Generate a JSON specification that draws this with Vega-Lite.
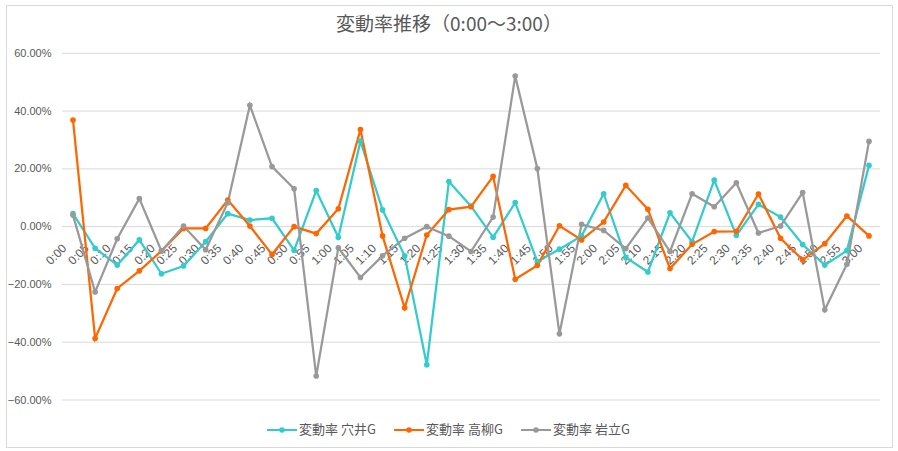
{
  "$schema": "https://vega.github.io/schema/vega-lite/v6.json",
  "width": 886,
  "height": 442,
  "autosize": {"type": "none"},
  "padding": {"left": 6, "top": 5, "right": 6, "bottom": 4},
  "background": "white",
  "config": {
    "view": {"stroke": "#d9d9d9", "strokeWidth": 1},
    "font": "Liberation Sans"
  },
  "title": {
    "text": "変動率推移（0:00～3:00）",
    "font": "Noto Sans CJK JP",
    "fontSize": 19,
    "fontWeight": "normal",
    "color": "#595959",
    "anchor": "middle",
    "frame": "group",
    "baseline": "middle",
    "offset": -17,
    "dy": 22
  },
  "layer": [
    {
      "data": {"values": [{"v": -0.6}, {"v": -0.4}, {"v": -0.2}, {"v": 0}, {"v": 0.2}, {"v": 0.4}, {"v": 0.6}]},
      "mark": {"type": "rule", "color": "#d9d9d9", "strokeWidth": 1},
      "encoding": {
        "y": {
          "field": "v",
          "type": "quantitative",
          "scale": {"domain": [-0.6, 0.6], "range": [395, 48.3], "nice": false, "zero": false},
          "axis": {
            "orient": "left",
            "offset": -56,
            "values": [-0.6, -0.4, -0.2, 0, 0.2, 0.4, 0.6],
            "format": ".2%",
            "labelPadding": 11,
            "labelFlush": false,
            "domain": false,
            "ticks": false,
            "grid": false,
            "title": null,
            "labelFont": "Liberation Sans Narrow, Liberation Sans",
            "labelFontSize": 11,
            "labelColor": "#595959"
          }
        },
        "x": {
          "datum": -2.5,
          "type": "quantitative",
          "scale": {"domain": [0, 180], "range": [67, 863], "nice": false, "zero": false},
          "axis": {
            "orient": "bottom",
            "offset": -220.3,
            "values": [0, 5, 10, 15, 20, 25, 30, 35, 40, 45, 50, 55, 60, 65, 70, 75, 80, 85, 90, 95, 100, 105, 110, 115, 120, 125, 130, 135, 140, 145, 150, 155, 160, 165, 170, 175, 180],
            "labelExpr": "floor(datum.value / 60) + ':' + (datum.value % 60 < 10 ? '0' : '') + (datum.value % 60)",
            "labelAngle": -45,
            "labelAlign": "right",
            "labelBaseline": "middle",
            "labelPadding": 19,
            "labelOffset": -9,
            "labelFlush": false,
            "labelOverlap": false,
            "labelBound": false,
            "domain": false,
            "ticks": false,
            "grid": false,
            "title": null,
            "labelFont": "Liberation Sans Narrow, Liberation Sans",
            "labelFontSize": 12,
            "labelColor": "#595959"
          }
        },
        "x2": {"datum": 182.5}
      }
    },
    {
      "data": {"values": [
        {"time": "0:00", "minute": 0, "変動率 穴井G": 0.045, "変動率 高柳G": 0.369, "変動率 岩立G": 0.040},
        {"time": "0:05", "minute": 5, "変動率 穴井G": -0.075, "変動率 高柳G": -0.387, "変動率 岩立G": -0.226},
        {"time": "0:10", "minute": 10, "変動率 穴井G": -0.133, "変動率 高柳G": -0.214, "変動率 岩立G": -0.042},
        {"time": "0:15", "minute": 15, "変動率 穴井G": -0.046, "変動率 高柳G": -0.153, "変動率 岩立G": 0.097},
        {"time": "0:20", "minute": 20, "変動率 穴井G": -0.163, "変動率 高柳G": -0.084, "変動率 岩立G": -0.084},
        {"time": "0:25", "minute": 25, "変動率 穴井G": -0.136, "変動率 高柳G": -0.006, "変動率 岩立G": 0.002},
        {"time": "0:30", "minute": 30, "変動率 穴井G": -0.052, "変動率 高柳G": -0.006, "変動率 岩立G": -0.080},
        {"time": "0:35", "minute": 35, "変動率 穴井G": 0.045, "変動率 高柳G": 0.092, "変動率 岩立G": 0.083},
        {"time": "0:40", "minute": 40, "変動率 穴井G": 0.023, "変動率 高柳G": 0.002, "変動率 岩立G": 0.420},
        {"time": "0:45", "minute": 45, "変動率 穴井G": 0.029, "変動率 高柳G": -0.096, "変動率 岩立G": 0.208},
        {"time": "0:50", "minute": 50, "変動率 穴井G": -0.082, "変動率 高柳G": 0.000, "変動率 岩立G": 0.131},
        {"time": "0:55", "minute": 55, "変動率 穴井G": 0.125, "変動率 高柳G": -0.024, "変動率 岩立G": -0.517},
        {"time": "1:00", "minute": 60, "変動率 穴井G": -0.037, "変動率 高柳G": 0.062, "変動率 岩立G": -0.073},
        {"time": "1:05", "minute": 65, "変動率 穴井G": 0.296, "変動率 高柳G": 0.336, "変動率 岩立G": -0.176},
        {"time": "1:10", "minute": 70, "変動率 穴井G": 0.058, "変動率 高柳G": -0.032, "変動率 岩立G": -0.101},
        {"time": "1:15", "minute": 75, "変動率 穴井G": -0.101, "変動率 高柳G": -0.281, "変動率 岩立G": -0.040},
        {"time": "1:20", "minute": 80, "変動率 穴井G": -0.478, "変動率 高柳G": -0.029, "変動率 岩立G": 0.000},
        {"time": "1:25", "minute": 85, "変動率 穴井G": 0.156, "変動率 高柳G": 0.059, "変動率 岩立G": -0.033},
        {"time": "1:30", "minute": 90, "変動率 穴井G": 0.071, "変動率 高柳G": 0.069, "変動率 岩立G": -0.086},
        {"time": "1:35", "minute": 95, "変動率 穴井G": -0.037, "変動率 高柳G": 0.174, "変動率 岩立G": 0.033},
        {"time": "1:40", "minute": 100, "変動率 穴井G": 0.083, "変動率 高柳G": -0.182, "変動率 岩立G": 0.521},
        {"time": "1:45", "minute": 105, "変動率 穴井G": -0.121, "変動率 高柳G": -0.134, "変動率 岩立G": 0.201},
        {"time": "1:50", "minute": 110, "変動率 穴井G": -0.078, "変動率 高柳G": 0.003, "変動率 岩立G": -0.371},
        {"time": "1:55", "minute": 115, "変動率 穴井G": -0.032, "変動率 高柳G": -0.046, "変動率 岩立G": 0.008},
        {"time": "2:00", "minute": 120, "変動率 穴井G": 0.114, "変動率 高柳G": 0.016, "変動率 岩立G": -0.013},
        {"time": "2:05", "minute": 125, "変動率 穴井G": -0.107, "変動率 高柳G": 0.143, "変動率 岩立G": -0.076},
        {"time": "2:10", "minute": 130, "変動率 穴井G": -0.157, "変動率 高柳G": 0.060, "変動率 岩立G": 0.030},
        {"time": "2:15", "minute": 135, "変動率 穴井G": 0.048, "変動率 高柳G": -0.145, "変動率 岩立G": -0.086},
        {"time": "2:20", "minute": 140, "変動率 穴井G": -0.052, "変動率 高柳G": -0.061, "変動率 岩立G": 0.114},
        {"time": "2:25", "minute": 145, "変動率 穴井G": 0.161, "変動率 高柳G": -0.017, "変動率 岩立G": 0.069},
        {"time": "2:30", "minute": 150, "変動率 穴井G": -0.030, "変動率 高柳G": -0.016, "変動率 岩立G": 0.152},
        {"time": "2:35", "minute": 155, "変動率 穴井G": 0.077, "変動率 高柳G": 0.113, "変動率 岩立G": -0.022},
        {"time": "2:40", "minute": 160, "変動率 穴井G": 0.033, "変動率 高柳G": -0.040, "変動率 岩立G": 0.002},
        {"time": "2:45", "minute": 165, "変動率 穴井G": -0.062, "変動率 高柳G": -0.115, "変動率 岩立G": 0.118},
        {"time": "2:50", "minute": 170, "変動率 穴井G": -0.133, "変動率 高柳G": -0.059, "変動率 岩立G": -0.288},
        {"time": "2:55", "minute": 175, "変動率 穴井G": -0.083, "変動率 高柳G": 0.037, "変動率 岩立G": -0.130},
        {"time": "3:00", "minute": 180, "変動率 穴井G": 0.212, "変動率 高柳G": -0.032, "変動率 岩立G": 0.295}
      ]},
      "transform": [
        {"fold": ["変動率 穴井G", "変動率 高柳G", "変動率 岩立G"], "as": ["series", "value"]}
      ],
      "mark": {"type": "line", "strokeWidth": 2.25, "point": {"filled": true, "size": 32, "opacity": 1}},
      "encoding": {
        "x": {
          "field": "minute",
          "type": "quantitative",
          "scale": {"domain": [0, 180], "range": [67, 863], "nice": false, "zero": false},
          "axis": {
            "orient": "bottom",
            "offset": -220.3,
            "values": [0, 5, 10, 15, 20, 25, 30, 35, 40, 45, 50, 55, 60, 65, 70, 75, 80, 85, 90, 95, 100, 105, 110, 115, 120, 125, 130, 135, 140, 145, 150, 155, 160, 165, 170, 175, 180],
            "labelExpr": "floor(datum.value / 60) + ':' + (datum.value % 60 < 10 ? '0' : '') + (datum.value % 60)",
            "labelAngle": -45,
            "labelAlign": "right",
            "labelBaseline": "middle",
            "labelPadding": 19,
            "labelOffset": -9,
            "labelFlush": false,
            "labelOverlap": false,
            "labelBound": false,
            "domain": false,
            "ticks": false,
            "grid": false,
            "title": null,
            "labelFont": "Liberation Sans Narrow, Liberation Sans",
            "labelFontSize": 12,
            "labelColor": "#595959"
          }
        },
        "y": {
          "field": "value",
          "type": "quantitative",
          "scale": {"domain": [-0.6, 0.6], "range": [395, 48.3], "nice": false, "zero": false},
          "axis": {
            "orient": "left",
            "offset": -56,
            "values": [-0.6, -0.4, -0.2, 0, 0.2, 0.4, 0.6],
            "format": ".2%",
            "labelPadding": 11,
            "labelFlush": false,
            "domain": false,
            "ticks": false,
            "grid": false,
            "title": null,
            "labelFont": "Liberation Sans Narrow, Liberation Sans",
            "labelFontSize": 11,
            "labelColor": "#595959"
          }
        },
        "color": {
          "field": "series",
          "type": "nominal",
          "scale": {"domain": ["変動率 穴井G", "変動率 高柳G", "変動率 岩立G"], "range": ["#33CCCC", "#FF6600", "#999999"]},
          "legend": {
            "orient": "none",
            "legendX": 260,
            "legendY": 409,
            "direction": "horizontal",
            "title": null,
            "symbolType": "M-1,0H1M-0.12,0A0.12,0.12,0,1,1,0.12,0A0.12,0.12,0,1,1,-0.12,0",
            "symbolSize": 900,
            "symbolStrokeWidth": 2,
            "labelFont": "Noto Sans CJK JP",
            "labelFontSize": 13,
            "labelColor": "#595959",
            "labelOffset": 1,
            "columnPadding": 14
          }
        }
      }
    }
  ]
}
